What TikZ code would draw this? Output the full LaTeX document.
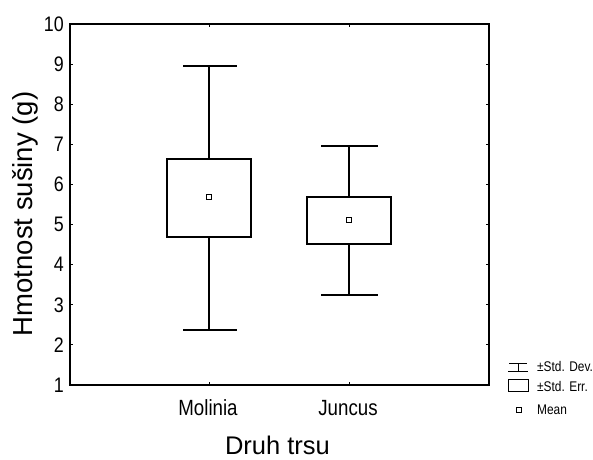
\documentclass[tikz,border=0pt]{standalone}
\usepackage{fontspec}
\setmainfont{Liberation Sans}
\newfontfamily\narrowfont[FakeStretch=0.85]{Liberation Sans}
\begin{document}
\begin{tikzpicture}[x=1pt,y=-1pt,
  frame/.style={line width=1.5pt},
  boxline/.style={line width=1.3pt},
  tick/.style={line width=1pt},
  ticklab/.style={anchor=east,inner sep=0pt,font=\narrowfont\fontsize{21}{23}\selectfont},
  catlab/.style={anchor=base,inner sep=0pt,font=\narrowfont\fontsize{22}{24}\selectfont},
  leglab/.style={anchor=west,inner sep=0pt,font=\narrowfont\fontsize{14}{16}\selectfont},
  meanbox/.style={draw,line width=1.1pt,minimum size=5pt,inner sep=0pt,fill=white}]
\useasboundingbox (0,0) rectangle (593,459);
% frame
\draw[frame] (70,24) rectangle (489,385);
% y ticks and labels
\foreach \v/\y in {10/24,9/64.1,8/104.2,7/144.3,6/184.4,5/224.6,4/264.7,3/304.8,2/344.9,1/385}{
  \node[ticklab] (t\v) at (64,\y) {\v};
  \draw[tick] (70,\y) -- (73,\y);
  \draw[tick] (489,\y) -- (486,\y);
}
% x ticks
\foreach \x in {209,349}{
  \draw[tick] (\x,385) -- (\x,382);
  \draw[tick] (\x,24) -- (\x,27);
}
% Molinia
\coordinate (mwt) at (209,66);
\coordinate (mwb) at (209,330);
\draw[boxline] (183,66) -- (237,66);
\draw[boxline] (183,330) -- (237,330);
\draw[boxline] (mwt) -- (209,159);
\draw[boxline] (209,237) -- (mwb);
\draw[boxline] (167,159) rectangle (251,237);
\node[meanbox] (mmean) at (209,197) {};
% Juncus
\coordinate (jwt) at (349,146);
\coordinate (jwb) at (349,295);
\draw[boxline] (321,146) -- (378,146);
\draw[boxline] (321,295) -- (378,295);
\draw[boxline] (jwt) -- (349,197);
\draw[boxline] (349,244) -- (jwb);
\draw[boxline] (307,197) rectangle (391,244);
\node[meanbox] (jmean) at (349,220) {};
% category labels
\node[catlab] (lmol) at (208,415) {Molinia};
\node[catlab] (ljun) at (348,415) {Juncus};
% axis titles
\node[anchor=base,inner sep=0pt,font=\fontsize{25.5}{28}\selectfont] (xt) at (277.5,454) {Druh trsu};
\node[rotate=90,anchor=base,inner sep=0pt,font=\fontsize{27.5}{30}\selectfont] (yt) at (32,214) {Hmotnost sušiny (g)};
% legend
\draw[line width=1pt] (509,363.5) -- (527,363.5);
\draw[line width=1pt] (518,363.5) -- (518,371);
\draw[line width=1pt] (508,371) -- (528,371);
\node[leglab] (ldev) at (537,366) {±Std. Dev.};
\draw[line width=1pt] (508,379) rectangle (528,391);
\node[leglab] (lerr) at (537,386) {±Std. Err.};
\node[meanbox,line width=1pt] (lmean) at (519,410) {};
\node[leglab] (lm) at (537,410) {Mean};
\end{tikzpicture}
\end{document}
